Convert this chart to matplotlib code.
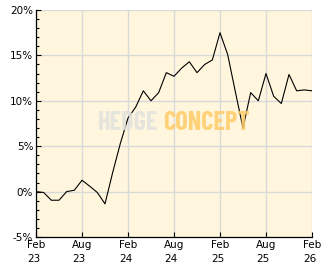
import numpy as np
import matplotlib
matplotlib.use("Agg")
import matplotlib.pyplot as plt
import matplotlib.ticker as tick

# monthly returns, Feb 23 .. Feb 26 (%)
months = ["Feb 23", "Mar 23", "Apr 23", "May 23", "Jun 23", "Jul 23", "Aug 23", "Sep 23",
          "Oct 23", "Nov 23", "Dec 23", "Jan 24", "Feb 24", "Mar 24", "Apr 24", "May 24",
          "Jun 24", "Jul 24", "Aug 24", "Sep 24", "Oct 24", "Nov 24", "Dec 24", "Jan 25",
          "Feb 25", "Mar 25", "Apr 25", "May 25", "Jun 25", "Jul 25", "Aug 25", "Sep 25",
          "Oct 25", "Nov 25", "Dec 25", "Jan 26", "Feb 26"]
values = [0.0, -0.1, -0.95, -0.95, 0.0, 0.15, 1.25, 0.6,
          -0.1, -1.35, 2.1, 5.3, 8.1, 9.3, 11.1, 10.0,
          10.9, 13.1, 12.7, 13.6, 14.3, 13.1, 14.0, 14.5,
          17.5, 15.1, 11.0, 7.0, 10.9, 10.0, 13.0, 10.5,
          9.7, 12.9, 11.1, 11.2, 11.1]
tick_labels = ["Feb\n23", "Aug\n23", "Feb\n24", "Aug\n24", "Feb\n25", "Aug\n25", "Feb\n26"]

fig = plt.figure(figsize=(3.32, 2.69), dpi=100)
ax = fig.add_axes([36/332, 32/269, 276/332, 227/269])
ax.set_facecolor("#fff6dd")

x = np.arange(len(values))
ax.plot(x, values, color="black", lw=0.8, zorder=3)

ax.set_xlim(0, len(values) - 1)
ax.set_ylim(-5, 20)
ax.set_xticks(np.arange(0, len(values), 6))
ax.set_xticklabels(tick_labels, fontsize=7.5, linespacing=1.5)
ax.yaxis.set_major_locator(tick.MultipleLocator(5))
ax.yaxis.set_minor_locator(tick.MultipleLocator(1))
ax.yaxis.set_major_formatter(tick.FuncFormatter(lambda v, p: f"{v:.0f}%"))
ax.tick_params(axis="both", which="major", direction="in", length=3.5, width=0.8,
               labelsize=7.5, pad=2)
ax.tick_params(axis="y", which="minor", direction="in", length=2.2, width=0.8)
for lab in ax.get_xticklabels():
    lab.set_multialignment("left")

ax.grid(which="major", color="#d9d9d9", lw=1)
ax.set_axisbelow(True)
for s in ["top", "right"]:
    ax.spines[s].set_visible(False)
for s in ["left", "bottom"]:
    ax.spines[s].set_linewidth(0.9)
    ax.spines[s].set_zorder(4)

# watermark, drawn over the line but slightly see-through
wm_font = ["Barlow Condensed", "DejaVu Sans"]
ax.text(0.333, 0.5, "HEDGE", transform=ax.transAxes, ha="center", va="center",
        fontsize=19, fontweight="bold", color="#e1e1de", alpha=0.85, family=wm_font, zorder=3.5)
ax.text(0.618, 0.5, "CONCEPT", transform=ax.transAxes, ha="center", va="center",
        fontsize=19, fontweight="bold", color="#ffcc68", alpha=0.85, family=wm_font, zorder=3.5)

fig.savefig("out.png", dpi=100)
